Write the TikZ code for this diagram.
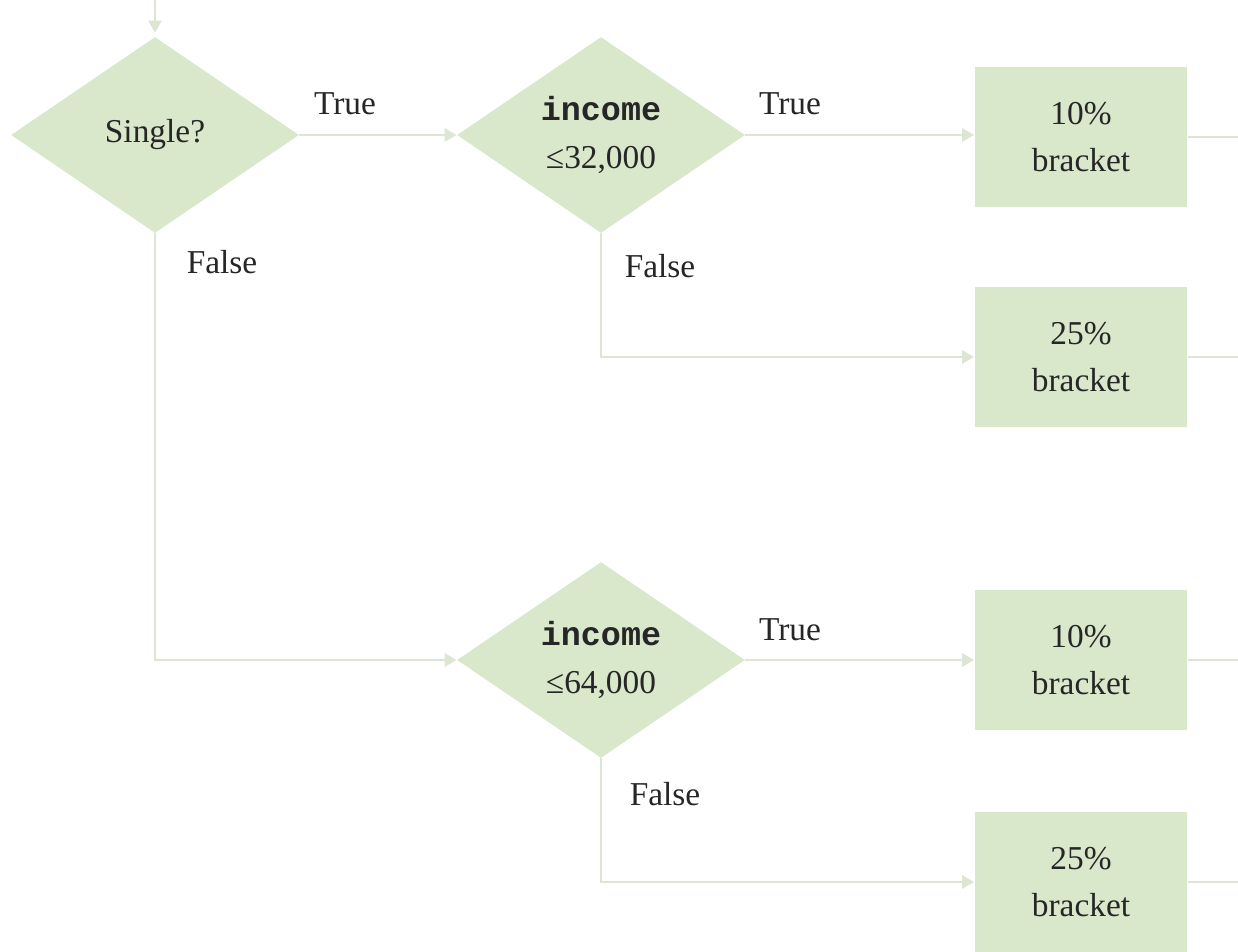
\documentclass[tikz,border=0pt]{standalone}
\usepackage{fontspec}
\setmainfont{Liberation Serif}
\setmonofont{Liberation Mono}
\usetikzlibrary{shapes.geometric,arrows.meta}
\definecolor{boxfill}{HTML}{D9E7CB}
\definecolor{linecol}{HTML}{DCE6D2}
\definecolor{txt}{HTML}{262626}
\tikzset{
  px/.style={x=0.02cm,y=-0.02cm},
  decision/.style={diamond,fill=boxfill,draw=none,inner sep=0pt,aspect=1.47,
     minimum width=5.76cm,minimum height=3.92cm,align=center,text=txt,
     font=\fontsize{19}{27}\selectfont},
  bracketbox/.style={rectangle,fill=boxfill,draw=none,minimum width=4.26cm,
     minimum height=2.82cm,align=center,text=txt,font=\fontsize{19}{27}\selectfont},
  flow/.style={draw=linecol,line width=1.6pt,-{Triangle[length=0.24cm,width=0.26cm]}},
  plain/.style={draw=linecol,line width=1.6pt},
  lbl/.style={text=txt,font=\fontsize{19}{23}\selectfont,inner sep=0pt}
}
\begin{document}
\begin{tikzpicture}[px]
\useasboundingbox (0,0) rectangle (1238,952);
% nodes
\node[decision] (single) at (155,135) {Single?};
\node[decision] (inc1) at (601,135) {\texttt{\textbf{income}}\\≤32,000};
\node[decision] (inc2) at (601,660) {\texttt{\textbf{income}}\\≤64,000};
\node[bracketbox] (b1) at (1081,137) {10\%\\bracket};
\node[bracketbox] (b2) at (1081,357) {25\%\\bracket};
\node[bracketbox] (b3) at (1081,660) {10\%\\bracket};
\node[bracketbox] (b4) at (1081,882) {25\%\\bracket};
% coordinates for free ends
\coordinate (top) at (155,0);
\coordinate (e1) at (1238,137);
\coordinate (e2) at (1238,357);
\coordinate (e3) at (1238,660);
\coordinate (e4) at (1238,882);
% connectors
\draw[flow] (top) -- ([yshift=0.08cm]single.north);
\draw[flow] (single.east) -- (inc1.west);
\draw[flow] (single.south) |- (inc2.west);
\draw[flow] (inc1.east) -- (inc1.east -| b1.west);
\draw[flow] (inc1.south) |- (b2.west);
\draw[flow] (inc2.east) -- (inc2.east -| b3.west);
\draw[flow] (inc2.south) |- (b4.west);
\draw[plain] (b1.east |- e1) -- (e1);
\draw[plain] (b2.east) -- (e2);
\draw[plain] (b3.east) -- (e3);
\draw[plain] (b4.east) -- (e4);
% labels
\node[lbl] (t1) at (345,104) {True};
\node[lbl] (t2) at (790,104) {True};
\node[lbl] (t3) at (790,630) {True};
\node[lbl] (f1) at (222,262) {False};
\node[lbl] (f2) at (660,266) {False};
\node[lbl] (f3) at (665,794) {False};
\end{tikzpicture}
\end{document}
